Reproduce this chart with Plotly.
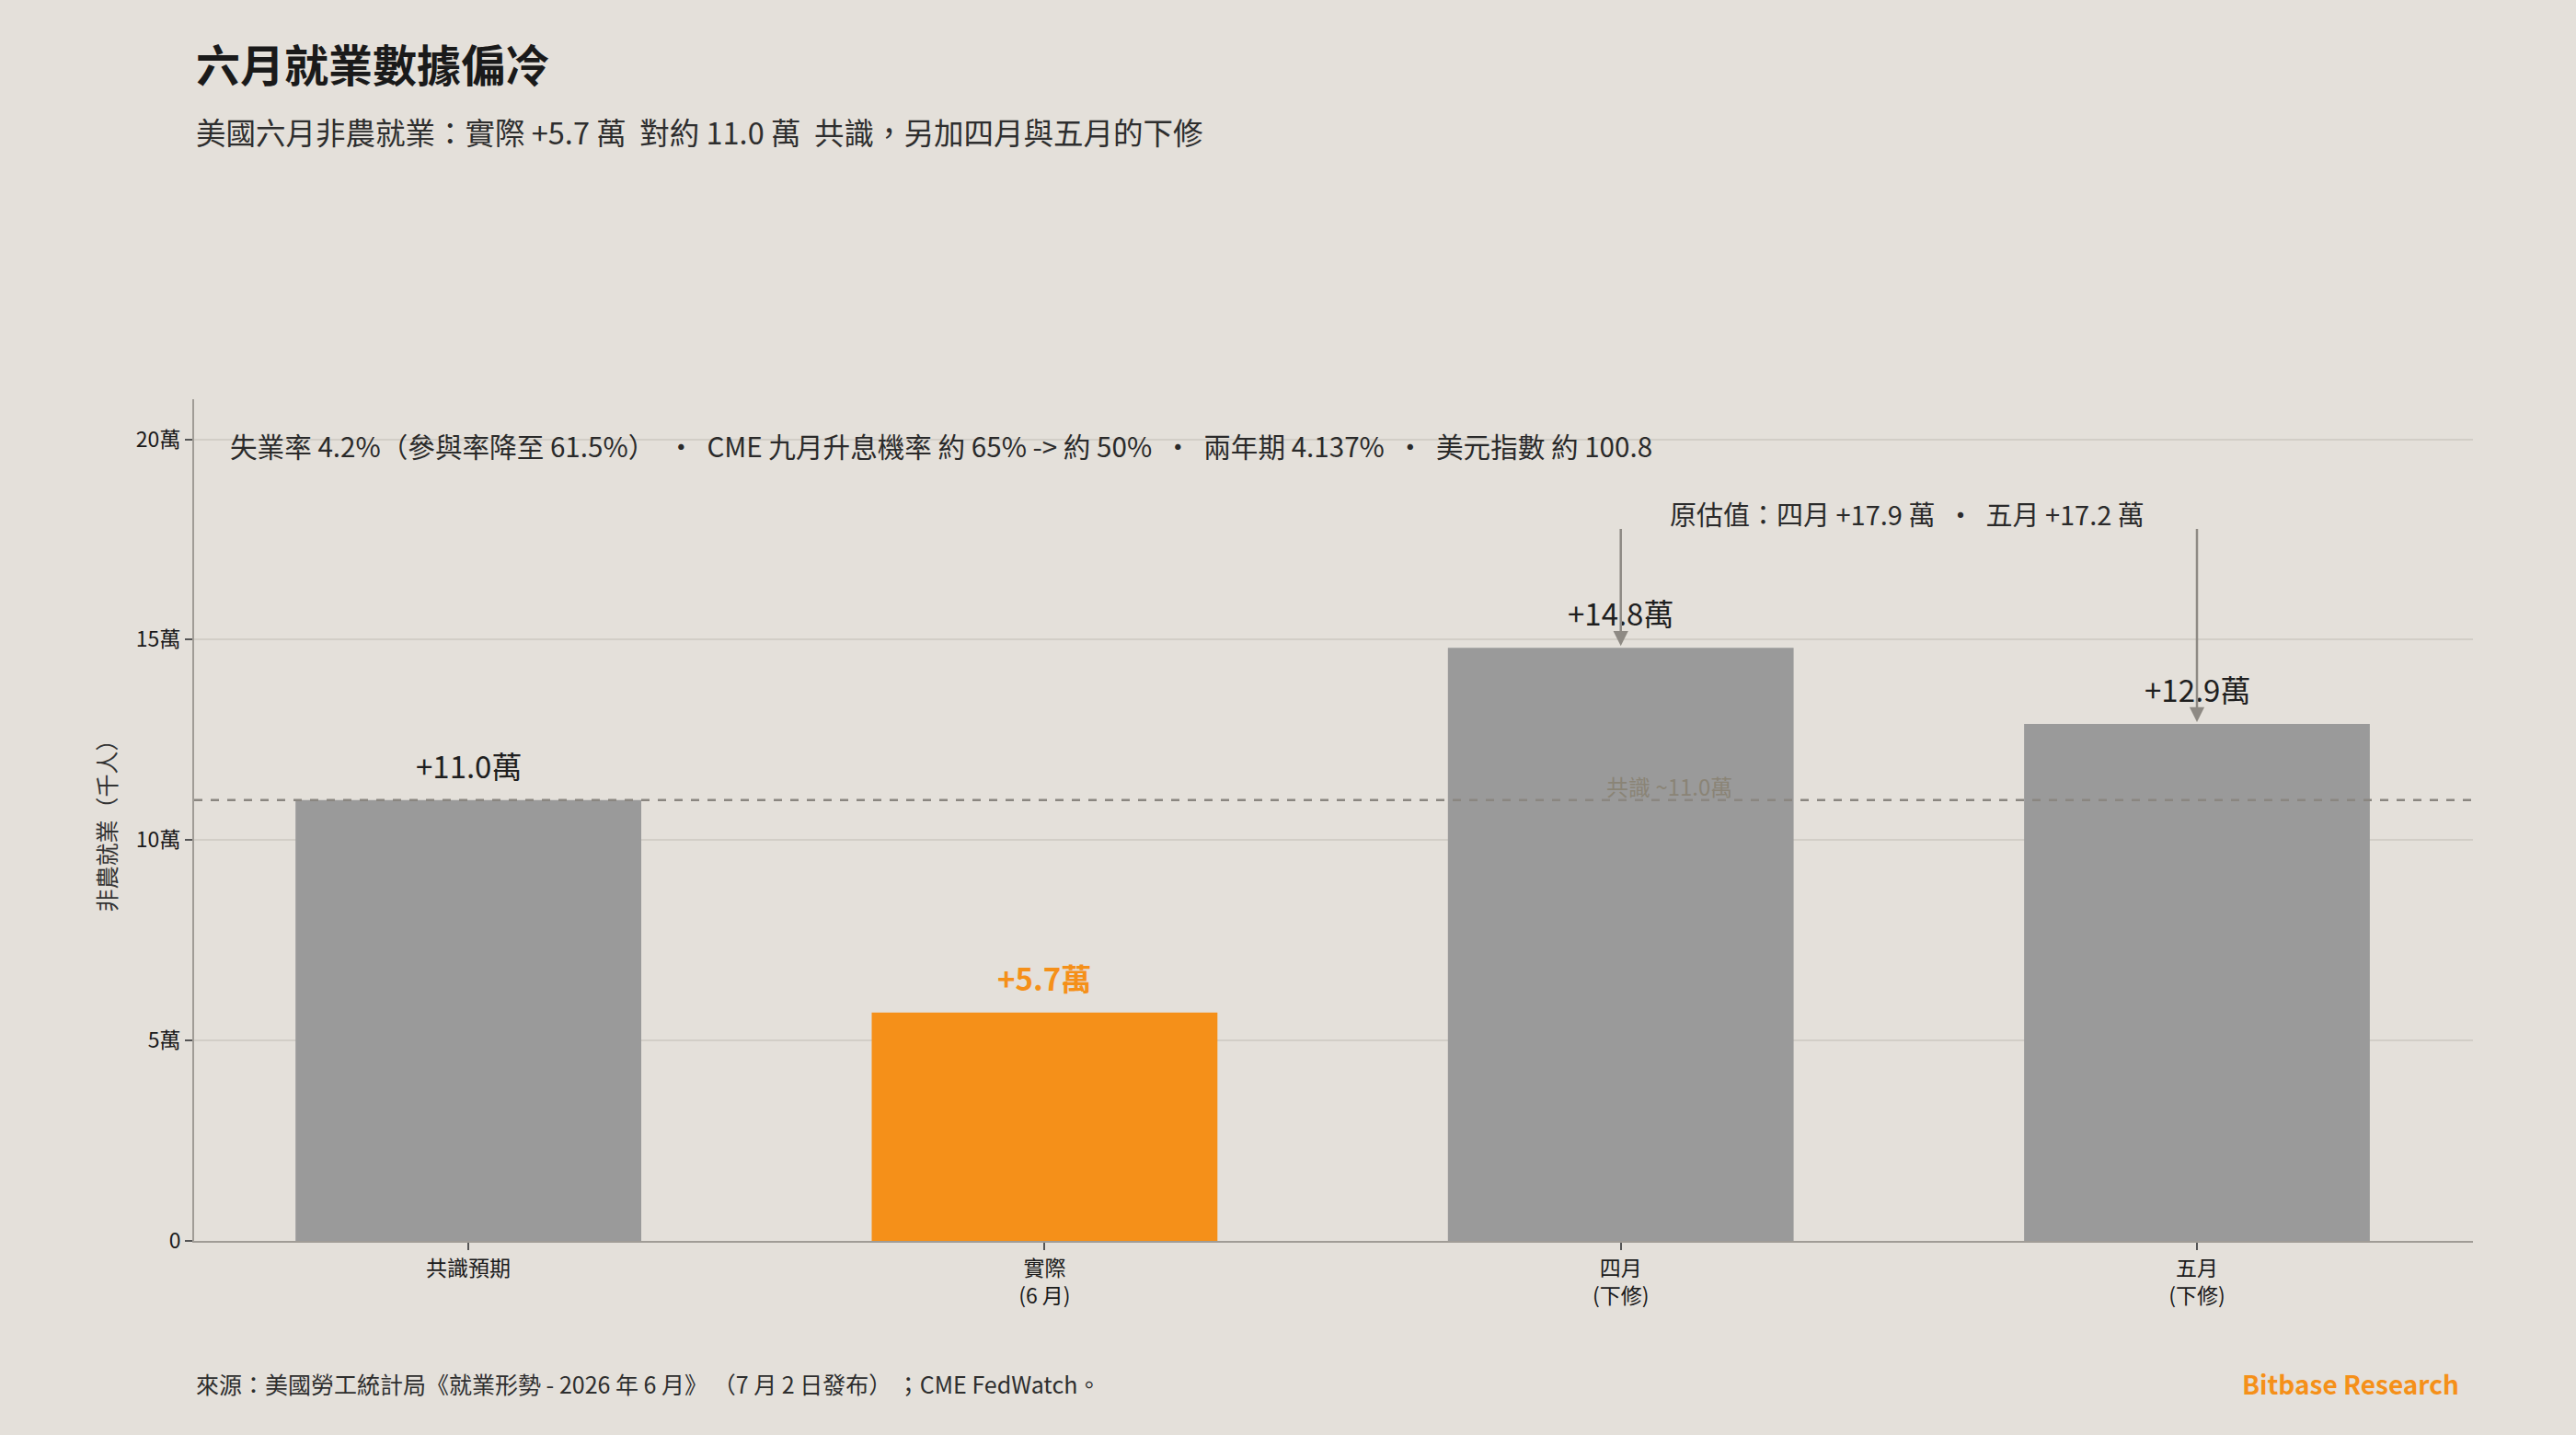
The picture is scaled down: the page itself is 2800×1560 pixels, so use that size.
import plotly.graph_objects as go

categories = ["共識預期", "實際<br>(6 月)", "四月<br>(下修)", "五月<br>(下修)"]
values = [11.0, 5.7, 14.8, 12.9]
labels = ["+11.0萬", "+5.7萬", "+14.8萬", "+12.9萬"]
bar_colors = ["#9a9a9a", "#f59019", "#9a9a9a", "#9a9a9a"]
consensus = 11.0
arrow_start = 17.8
revised_idx = [2, 3]
y_ticks = [0, 5, 10, 15, 20]
y_tick_text = ["0", "5萬", "10萬", "15萬", "20萬"]

FONT = "Noto Sans CJK TC, Inter, sans-serif"
BG = "#e4e0da"

fig = go.Figure()
fig.add_trace(go.Bar(
    x=categories, y=values, marker_color=bar_colors, marker_line_width=0,
    width=0.6, hoverinfo="skip", showlegend=False,
))

L, R, T, B = 211, 112, 434, 211
plot_h = 1560 - T - B
plot_w = 2800 - L - R
def py(px):
    return (1560 - B - px) / plot_h
def pxf(px):
    return (px - L) / plot_w

anns = []
for i, (c, v, t) in enumerate(zip(categories, values, labels)):
    orange = i == 1
    anns.append(dict(
        x=c, y=v, xref="x", yref="y", text=t, showarrow=False,
        yanchor="bottom", yshift=12,
        font=dict(family=FONT, size=33,
                  color="#f59019" if orange else "#1f1f1f",
                  weight=700 if orange else 400),
    ))

for i in revised_idx:
    anns.append(dict(
        x=categories[i], y=values[i], xref="x", yref="y", text="",
        showarrow=True, axref="pixel", ax=0, ayref="y", ay=arrow_start,
        arrowhead=2, arrowsize=1.3, arrowwidth=2.5, arrowcolor="#8e8a84",
        standoff=2,
    ))

anns += [
    dict(x=pxf(211), y=py(68), xref="paper", yref="paper", xanchor="left", yanchor="middle",
         text="<b>六月就業數據偏冷</b>", showarrow=False,
         font=dict(family=FONT, size=48, color="#1a1a1a")),
    dict(x=pxf(211), y=py(143), xref="paper", yref="paper", xanchor="left", yanchor="middle",
         text="美國六月非農就業：實際 +5.7 萬  對約 11.0 萬  共識，另加四月與五月的下修",
         showarrow=False, font=dict(family=FONT, size=32.5, color="#2e2e2e")),
    dict(text="失業率 4.2%（參與率降至 61.5%）  ·  CME 九月升息機率 約 65% -> 約 50%  ·  兩年期 4.137%  ·  美元指數 約 100.8",
         x=pxf(248), y=19.85, xref="paper", yref="y", xanchor="left", yanchor="middle",
         showarrow=False, font=dict(family=FONT, size=29.6, color="#2a2a2a")),
    dict(text="原估值：四月 +17.9 萬  ·  五月 +17.2 萬",
         x=pxf(2073), y=18.15, xref="paper", yref="y", xanchor="center", yanchor="middle",
         showarrow=False, font=dict(family=FONT, size=29, color="#2a2a2a")),
    dict(text="共識 ~11.0萬", x=pxf(1814), y=consensus, xref="paper", yref="y",
         xanchor="center", yanchor="bottom", yshift=-4, showarrow=False,
         font=dict(family=FONT, size=24, color="#8a8476")),
    dict(x=pxf(211), y=py(1504), xref="paper", yref="paper", xanchor="left", yanchor="middle",
         text="來源：美國勞工統計局《就業形勢 - 2026 年 6 月》 （7 月 2 日發布） ；CME FedWatch。",
         showarrow=False, font=dict(family=FONT, size=25, color="#2e2e2e")),
    dict(x=pxf(2675), y=py(1504), xref="paper", yref="paper", xanchor="right", yanchor="middle",
         text="<b>Bitbase Research</b>",
         showarrow=False, font=dict(family=FONT, size=28, color="#f59019")),
]

fig.update_layout(
    width=2800, height=1560,
    paper_bgcolor=BG, plot_bgcolor=BG,
    margin=dict(l=L, r=R, t=T, b=B),
    annotations=anns,
    shapes=[dict(type="line", xref="paper", yref="y", x0=0, x1=1, y0=consensus, y1=consensus,
                 line=dict(color="#8a8680", width=2.5, dash="dash"), layer="above")],
    font=dict(family=FONT),
)

fig.update_yaxes(
    range=[0, 21.0], tickvals=y_ticks, ticktext=y_tick_text,
    showgrid=True, gridcolor="#d2cec7", gridwidth=1.5, zeroline=False,
    showline=True, linecolor="#a09c96", linewidth=2,
    ticks="outside", ticklen=8, tickcolor="#555", tickwidth=1.5,
    tickfont=dict(family=FONT, size=23, color="#1a1a1a"),
    title=dict(text="非農就業（千人）", font=dict(family=FONT, size=25, color="#333"), standoff=14),
)
fig.update_xaxes(
    range=[-0.476, 3.479],
    showline=True, linecolor="#a09c96", linewidth=2,
    ticks="outside", ticklen=8, tickcolor="#555", tickwidth=1.5,
    tickfont=dict(family=FONT, size=23, color="#1a1a1a"),
)

fig.write_html("out.html")
